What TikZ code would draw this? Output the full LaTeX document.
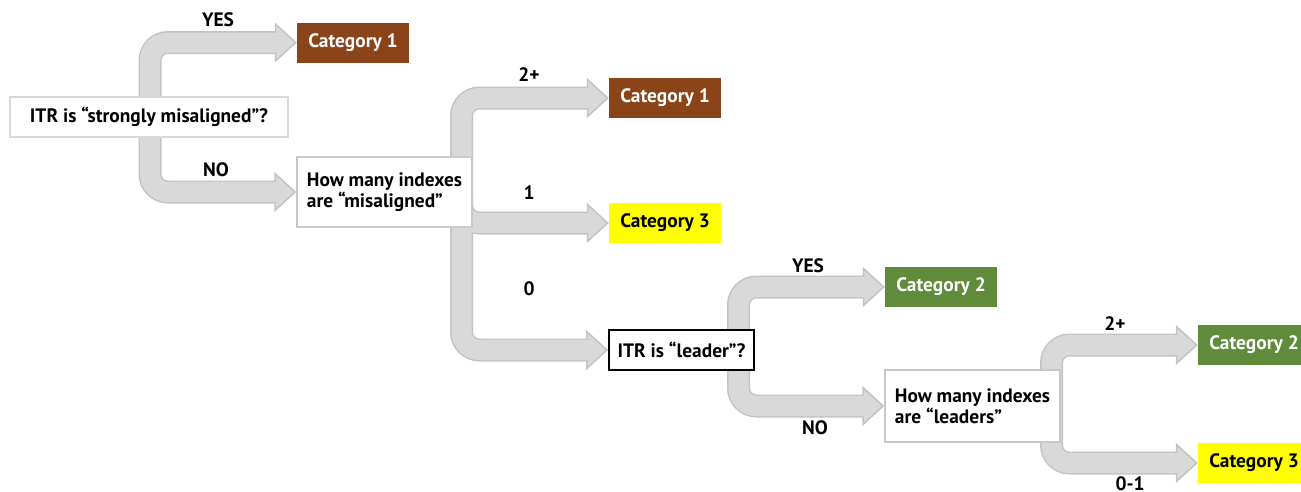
\documentclass[tikz,border=0pt]{standalone}
\usepackage{fontspec}
\setmainfont{PT Sans}
\usetikzlibrary{arrows.meta, positioning, backgrounds}
\definecolor{BandFill} {HTML}{D9D9D9}
\definecolor{BandEdge} {HTML}{C3C3C3}
\definecolor{BoxEdge}  {HTML}{C8C8C8}
\definecolor{BoxPale}  {HTML}{D9D9D9}
\definecolor{Rust}     {HTML}{8B4419}
\definecolor{Leaf}     {HTML}{5F8B3A}
\definecolor{Lemon}    {HTML}{FFFF00}

\begin{document}
\begin{tikzpicture}[
  x=1pt, y=-1pt,
  every node/.style={font=\fontsize{19.4}{21.5}\selectfont\bfseries},
  question/.style={draw=BoxEdge, fill=white, line width=1.5pt, inner sep=0pt,
               minimum height=40pt, align=left, text=black},
  verdict/.style={inner sep=0pt, minimum width=112pt, minimum height=40pt,
               text=white},
  cat1/.style={verdict, fill=Rust},
  cat2/.style={verdict, fill=Leaf},
  cat3/.style={verdict, fill=Lemon, text=black},
  branch/.style={inner sep=0pt, text=black},
  bandedge/.style={draw=BandEdge, line width=23pt, rounded corners=18pt,
               -{Triangle[width=40pt, length=22pt, line width=1.5pt,
                          fill=BandFill, color=BandEdge]}},
  bandfill/.style={draw=BandFill, line width=20pt, rounded corners=18pt,
               shorten >=19pt},
]
  \useasboundingbox (0,0) rectangle (1301,491);

  % questions
  \node[question, draw=BoxPale, line width=2pt, minimum width=278pt] (qA) at (149,117)
    {ITR is “strongly misaligned”?};
  \node[question, minimum width=175pt, minimum height=70pt] (qB) at (384.5,192)
    {How many indexes\\are “misaligned”};
  \node[question, draw=black, line width=1.8pt, minimum width=145pt] (qC) at (681.5,350)
    {ITR is “leader”?};
  \node[question, minimum width=175pt, minimum height=72pt] (qD) at (972.5,406)
    {How many indexes\\are “leaders”};

  % outcomes
  \node[cat1] (cat1a) at (353,42.5) {Category 1};
  \node[cat1] (cat1b) at (665,98)   {Category 1};
  \node[cat3] (cat3a) at (665,223)  {Category 3};
  \node[cat2] (cat2a) at (941,287)  {Category 2};
  \node[cat2] (cat2b) at (1254,345) {Category 2};
  \node[cat3] (cat3b) at (1254,463) {Category 3};

  % branch labels
  \node[branch] (yesA)  at (218,20)   {YES};
  \node[branch] (noA)   at (216,170)  {NO};
  \node[branch] (moreB) at (529,75)   {2+};
  \node[branch] (oneB)  at (529,193)  {1};
  \node[branch] (zeroB) at (529,289)  {0};
  \node[branch] (yesC)  at (808,266)  {YES};
  \node[branch] (noC)   at (815,428)  {NO};
  \node[branch] (moreD) at (1115,324) {2+};
  \node[branch] (fewD)  at (1130,484) {0-1};

  \coordinate (forkA) at (150,117);
  \coordinate (forkB) at (461.5,192);
  \coordinate (forkC) at (738.5,350);
  \coordinate (forkD) at (1051.5,406);

  % fat grey bands: edge pass first, then fill pass
  \begin{scope}[on background layer]
    \foreach \f/\g in {forkA/cat1a, forkA/qB, forkB/cat1b, forkB/cat3a, forkB/qC,
                       forkC/cat2a, forkC/qD, forkD/cat2b, forkD/cat3b}
      \draw[bandedge] (\f) |- (\g.west);
    \foreach \f/\g in {forkA/cat1a, forkA/qB, forkB/cat1b, forkB/cat3a, forkB/qC,
                       forkC/cat2a, forkC/qD, forkD/cat2b, forkD/cat3b}
      \draw[bandfill] (\f) |- (\g.west);
  \end{scope}
\end{tikzpicture}
\end{document}
